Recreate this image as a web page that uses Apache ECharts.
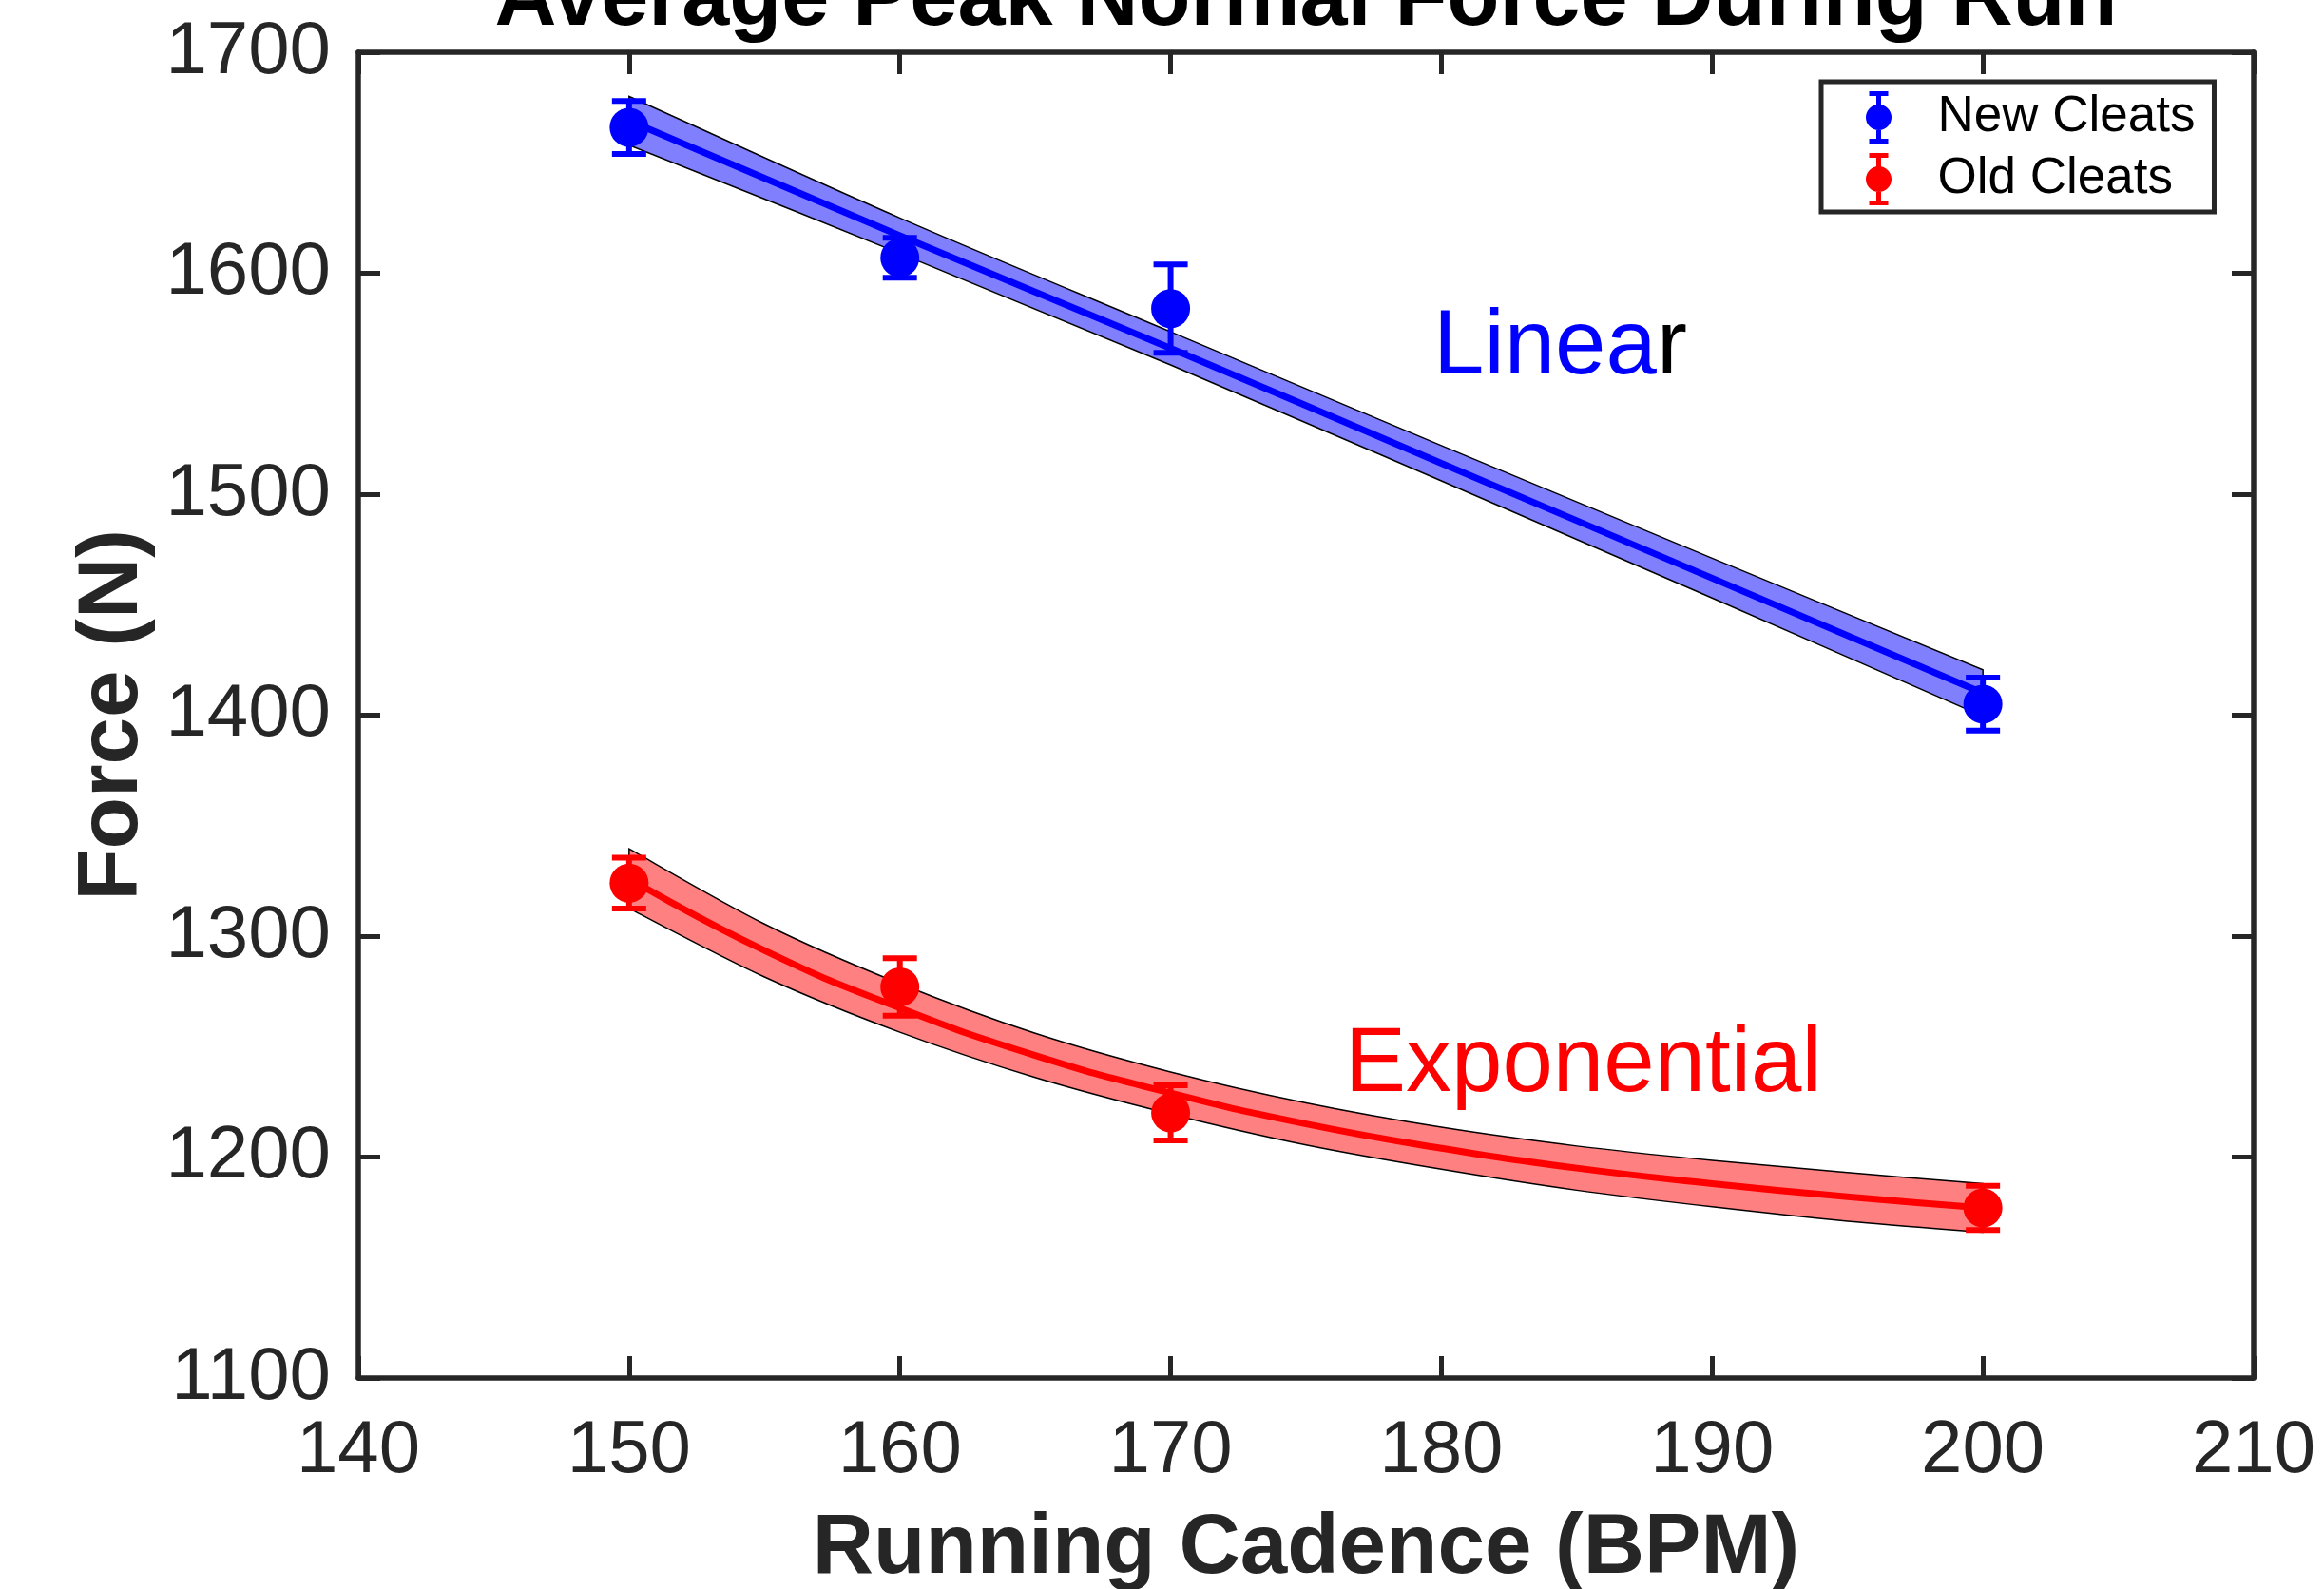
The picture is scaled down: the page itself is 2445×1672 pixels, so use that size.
<!DOCTYPE html>
<html>
<head>
<meta charset="utf-8">
<script src="https://cdn.jsdelivr.net/npm/echarts@6/dist/echarts.min.js"></script>
<style>
  html, body { margin: 0; padding: 0; background: #fff; }
  #chart { width: 2445px; height: 1672px; }
</style>
</head>
<body>
<div id="chart"></div>
<script>
// measured points (mean +- error)
const cadence = [150, 160, 170, 200]
const newCleats = [1666, 1607, 1584, 1405]
const newCleatsErr = [12, 9, 20, 12]
const oldCleats = [1324, 1277, 1220, 1177]
const oldCleatsErr = [11.5, 13, 12.5, 10]

// linear fit for new cleats, with its band
const linX = [150, 160, 170, 180, 190, 200]
const linFit = [1669, 1617, 1566, 1514, 1462, 1410]
const linUpper = [1680, 1625, 1573.5, 1522, 1471, 1420.5]
const linLower = [1658, 1609, 1558.5, 1506, 1453, 1399.5]

// exponential fit for old cleats, with its band
const expX = [150, 155, 160, 165, 170, 175, 180, 185, 190, 195, 200]
const expFit = [1326, 1293.5, 1267.5, 1246, 1229, 1215, 1204, 1195, 1188, 1182, 1177]
const expUpper = [1339.5, 1305.5, 1278.5, 1256, 1238.5, 1224.5, 1213.5, 1205, 1198.5, 1193, 1188]
const expLower = [1312.5, 1281.5, 1256.5, 1236, 1219.5, 1205.5, 1194.5, 1185, 1177.5, 1171, 1166]

const xMin = 140, xMax = 210, xStep = 10
const yMin = 1100, yMax = 1700, yStep = 100

const FONT = '"Liberation Sans", Arial, Helvetica, sans-serif'
const AXIS = '#262626'
const BLUE = '#0000ff'
const RED = '#ff0000'

const chart = echarts.init(document.getElementById('chart'), null, { renderer: 'canvas' })

// cubic bezier segments through pixel points (catmull-rom style)
function curveTo(pts) {
  let d = ''
  const n = pts.length
  for (let i = 0; i < n - 1; i++) {
    const p0 = pts[Math.max(i - 1, 0)], p1 = pts[i], p2 = pts[i + 1], p3 = pts[Math.min(i + 2, n - 1)]
    const c1 = [p1[0] + (p2[0] - p0[0]) / 6, p1[1] + (p2[1] - p0[1]) / 6]
    const c2 = [p2[0] - (p3[0] - p1[0]) / 6, p2[1] - (p3[1] - p1[1]) / 6]
    d += 'C' + c1.join(',') + ' ' + c2.join(',') + ' ' + p2.join(',')
  }
  return d
}

function bandSeries(name, xs, upper, lower, fill) {
  return {
    name,
    type: 'custom',
    coordinateSystem: 'cartesian2d',
    silent: true,
    z: 1,
    data: [[xs[0], upper[0]]],
    renderItem: (params, api) => {
      const up = xs.map((x, i) => api.coord([x, upper[i]]))
      const lo = xs.map((x, i) => api.coord([x, lower[i]])).reverse()
      const d = 'M' + up[0].join(',') + curveTo(up) + 'L' + lo[0].join(',') + curveTo(lo) + 'Z'
      return {
        type: 'path',
        shape: { pathData: d },
        style: { fill, stroke: '#000', lineWidth: 1.5 }
      }
    }
  }
}

function errorSeries(name, ys, errs, color) {
  return {
    name,
    type: 'custom',
    coordinateSystem: 'cartesian2d',
    z: 5,
    itemStyle: { color },
    data: cadence.map((x, i) => [x, ys[i], errs[i]]),
    renderItem: (params, api) => {
      const x = api.value(0), y = api.value(1), e = api.value(2)
      const c = api.coord([x, y])
      const hi = api.coord([x, y + e])[1]
      const lo = api.coord([x, y - e])[1]
      const st = { stroke: color, lineWidth: 6 }
      return {
        type: 'group',
        children: [
          { type: 'line', shape: { x1: c[0], y1: hi, x2: c[0], y2: lo }, style: st },
          { type: 'line', shape: { x1: c[0] - 18, y1: hi, x2: c[0] + 18, y2: hi }, style: st },
          { type: 'line', shape: { x1: c[0] - 18, y1: lo, x2: c[0] + 18, y2: lo }, style: st },
          { type: 'circle', shape: { cx: c[0], cy: c[1], r: 20.5 }, style: { fill: color } }
        ]
      }
    }
  }
}

function fitSeries(name, xs, ys, color) {
  return {
    name,
    type: 'line',
    z: 3,
    silent: true,
    smooth: xs.length > 2,
    showSymbol: false,
    data: xs.map((x, i) => [x, ys[i]]),
    lineStyle: { color, width: 7 }
  }
}

const legendIcon = 'path://M4,0H24V5H16.5V50H24V55H4V50H11.5V5H4Z' +
  'M0.5,27.5A13.5,13.5 0 1 1 27.5,27.5A13.5,13.5 0 1 1 0.5,27.5Z'

const baseX = {
  type: 'value', min: xMin, max: xMax, interval: xStep,
  axisLine: { show: true, lineStyle: { color: AXIS, width: 5.5 } },
  axisTick: { show: true, inside: true, length: 23, lineStyle: { color: AXIS, width: 5 } },
  splitLine: { show: false }
}
const baseY = {
  type: 'value', min: yMin, max: yMax, interval: yStep,
  axisLine: { show: true, lineStyle: { color: AXIS, width: 5.5 } },
  axisTick: { show: true, inside: true, length: 23, lineStyle: { color: AXIS, width: 5 } },
  splitLine: { show: false }
}

const option = {
  backgroundColor: '#fff',
  animation: false,
  title: {
    text: 'Average Peak Normal Force During Run',
    left: 1374,
    top: -44,
    textAlign: 'center',
    padding: 0,
    textStyle: { fontFamily: FONT, fontSize: 90, fontWeight: 'bold', color: '#000' }
  },
  grid: { left: 377, right: 74, top: 55, bottom: 222, containLabel: false, outerBoundsMode: 'none' },
  legend: {
    orient: 'vertical',
    left: 1916,
    top: 86,
    data: ['New Cleats', 'Old Cleats'],
    icon: legendIcon,
    itemWidth: 28,
    itemHeight: 55,
    itemGap: 10,
    selectedMode: false,
    padding: [10, 20, 7, 47],
    backgroundColor: '#fff',
    borderColor: AXIS,
    borderWidth: 5,
    textStyle: { fontFamily: FONT, fontSize: 53, color: '#000', padding: [0, 0, 0, 43] }
  },
  xAxis: [
    Object.assign({}, baseX, {
      position: 'bottom',
      name: 'Running Cadence (BPM)',
      nameLocation: 'middle',
      nameGap: 136,
      nameTextStyle: { fontFamily: FONT, fontSize: 89, fontWeight: 'bold', color: AXIS },
      axisLabel: { fontFamily: FONT, fontSize: 78, color: AXIS, margin: 38, formatter: v => String(v) }
    }),
    Object.assign({}, baseX, { position: 'top', axisLabel: { show: false } })
  ],
  yAxis: [
    Object.assign({}, baseY, {
      position: 'left',
      name: 'Force (N)',
      nameLocation: 'middle',
      nameGap: 202,
      nameTextStyle: { fontFamily: FONT, fontSize: 89, fontWeight: 'bold', color: AXIS },
      axisLabel: { fontFamily: FONT, fontSize: 78, color: AXIS, margin: 29, formatter: v => String(v) }
    }),
    Object.assign({}, baseY, { position: 'right', axisLabel: { show: false } })
  ],
  graphic: [
    {
      type: 'text', left: 1508, top: 319, silent: true,
      style: {
        text: '{b|Linea}{k|r}',
        font: '96px ' + FONT,
        rich: {
          b: { fill: BLUE, fontSize: 96, fontFamily: FONT },
          k: { fill: '#000', fontSize: 96, fontFamily: FONT }
        }
      }
    },
    {
      type: 'text', left: 1415, top: 1074, silent: true,
      style: { text: 'Exponential', fill: RED, font: '96px ' + FONT }
    }
  ],
  series: [
    bandSeries('linBand', linX, linUpper, linLower, '#8080ff'),
    bandSeries('expBand', expX, expUpper, expLower, '#ff8080'),
    fitSeries('linFit', linX, linFit, BLUE),
    fitSeries('expFit', expX, expFit, RED),
    errorSeries('New Cleats', newCleats, newCleatsErr, BLUE),
    errorSeries('Old Cleats', oldCleats, oldCleatsErr, RED)
  ]
}

chart.setOption(option)
</script>
</body>
</html>
